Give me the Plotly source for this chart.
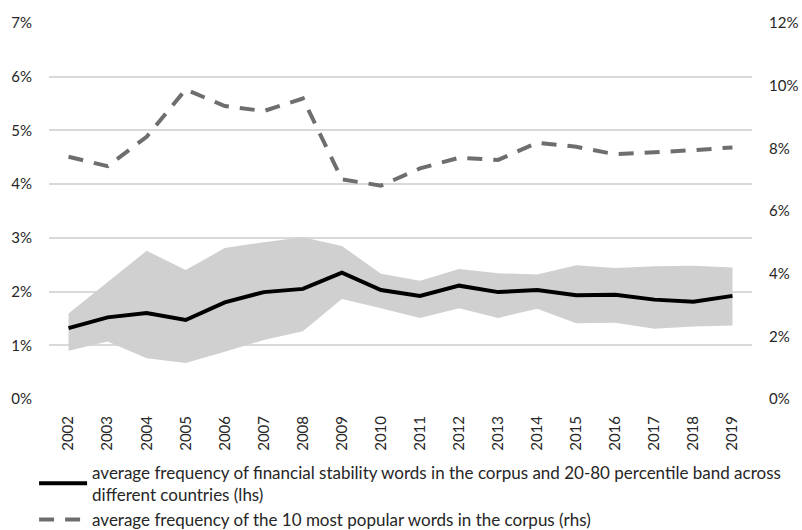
import plotly.graph_objects as go

years = [str(y) for y in range(2002, 2020)]
fs_avg = [1.32, 1.52, 1.60, 1.47, 1.80, 1.99, 2.05, 2.35, 2.03, 1.92, 2.11, 1.99, 2.03, 1.93, 1.94, 1.85, 1.81, 1.92]
band_upper = [1.59, 2.17, 2.76, 2.40, 2.81, 2.92, 3.01, 2.85, 2.33, 2.20, 2.42, 2.34, 2.32, 2.49, 2.44, 2.47, 2.48, 2.45]
band_lower = [0.90, 1.07, 0.76, 0.67, 0.88, 1.10, 1.26, 1.86, 1.69, 1.51, 1.69, 1.51, 1.68, 1.41, 1.42, 1.31, 1.35, 1.37]
popular_avg = [7.73, 7.43, 8.37, 9.88, 9.35, 9.19, 9.59, 7.01, 6.81, 7.36, 7.70, 7.63, 8.18, 8.05, 7.81, 7.86, 7.94, 8.03]

left_ticks = [0, 1, 2, 3, 4, 5, 6, 7]
right_ticks = [0, 2, 4, 6, 8, 10, 12]
left_labels = [f"{v}%" for v in left_ticks]
right_labels = [f"{v}%" for v in right_ticks]

name_fs = "average frequency of financial stability words in the corpus and 20-80 percentile band across<br>different countries (lhs)"
name_pop = "average frequency of the 10 most popular words in the corpus (rhs)"

FONT = "Lato"

fig = go.Figure()
fig.add_trace(go.Scatter(x=years, y=band_lower, mode="lines", line=dict(width=0, color="#d0d0d0"),
                         showlegend=False, hoverinfo="skip", yaxis="y"))
fig.add_trace(go.Scatter(x=years, y=band_upper, mode="lines", line=dict(width=0, color="#d0d0d0"),
                         fill="tonexty", fillcolor="#d0d0d0", showlegend=False, hoverinfo="skip", yaxis="y"))
fig.add_trace(go.Scatter(x=years, y=fs_avg, mode="lines", name=name_fs,
                         line=dict(color="#000000", width=4), yaxis="y"))
fig.add_trace(go.Scatter(x=years, y=popular_avg, mode="lines", name=name_pop,
                         line=dict(color="#6e6e6e", width=4, dash="15px,11px"), yaxis="y2"))

fig.update_layout(
    width=802, height=530,
    margin=dict(l=49, r=50, t=23, b=131, autoexpand=False),
    paper_bgcolor="white", plot_bgcolor="white",
    font=dict(family=FONT, size=15, color="#262626"),
    xaxis=dict(type="category", range=[-0.5, len(years) - 0.5], tickangle=-90, showgrid=False,
               showline=False, ticks="", ticklabelstandoff=13, tickfont=dict(size=15), automargin=False),
    yaxis=dict(range=[0, 7], tickvals=left_ticks, ticktext=left_labels, showgrid=True,
               gridcolor="#d9d9d9", gridwidth=1.5, zeroline=False, showline=False,
               ticklabelstandoff=16, automargin=False),
    yaxis2=dict(range=[0, 12], tickvals=right_ticks, ticktext=right_labels, overlaying="y", side="right",
                showgrid=False, zeroline=False, showline=False, ticklabelstandoff=16, automargin=False),
    legend=dict(orientation="v", x=0.0425, y=0.142, xref="container", yref="container",
                xanchor="left", yanchor="top",
                traceorder="normal", font=dict(size=17), tracegroupgap=0, itemwidth=48),
    showlegend=True,
)

fig.write_html("out.html", config={"displayModeBar": False},
               post_script="document.body.style.margin='0';document.body.style.overflow='hidden';")
